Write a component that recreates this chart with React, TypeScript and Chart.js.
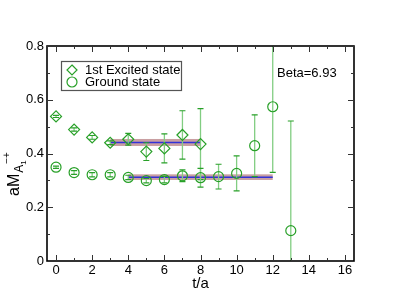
import React, { useEffect, useRef } from "react";
import { Chart, registerables } from "chart.js";

Chart.register(...registerables);

const tExcited = [0, 1, 2, 3, 4, 5, 6, 7, 8];
const excited = [0.538, 0.489, 0.46, 0.44, 0.453, 0.407, 0.419, 0.469, 0.435];
const excitedErr = [0.004, 0.006, 0.007, 0.007, 0.022, 0.033, 0.054, 0.09, 0.132];

const tGround = [0, 1, 2, 3, 4, 5, 6, 7, 8, 9, 10, 11, 12, 13];
const ground = [0.349, 0.329, 0.321, 0.321, 0.311, 0.299, 0.303, 0.317, 0.31, 0.314, 0.326, 0.429, 0.574, 0.113];
const groundErr = [0.004, 0.007, 0.008, 0.008, 0.008, 0.008, 0.012, 0.022, 0.035, 0.046, 0.065, 0.115, 0.244, 0.408];

// fit bands: [tFrom, tTo, value, halfWidth]
const fitExcited = [3, 8, 0.441, 0.013];
const fitGround = [4, 12, 0.312, 0.0105];

const xTicks = [0, 2, 4, 6, 8, 10, 12, 14, 16];
const xMinorTicks = [1, 3, 5, 7, 9, 11, 13, 15];
const yTicks = [0, 0.2, 0.4, 0.6, 0.8];
const yTickLabels = ["0", "0.2", "0.4", "0.6", "0.8"];
const yMinorTicks = [0.1, 0.3, 0.5, 0.7];

const legendLabels = ["1st Excited state", "Ground state"];
const annotation = "Beta=6.93";
const xTitle = "t/a";

const GREEN = "rgb(40,160,40)";
const LIGHT_GREEN = "rgb(130,205,130)";
const FONT = "Liberation Sans, Arial, sans-serif";

const errs = [excitedErr, groundErr];

const customPlugin = {
  id: "custom",
  beforeDatasetsDraw(chart: any) {
    const { ctx, chartArea: a, scales } = chart;
    const xs = scales.x;
    const ys = scales.y;
    ctx.save();
    ctx.beginPath();
    ctx.rect(a.left, a.top, a.right - a.left, a.bottom - a.top);
    ctx.clip();
    // bands
    for (const f of [fitExcited, fitGround]) {
      const x1 = xs.getPixelForValue(f[0]);
      const x2 = xs.getPixelForValue(f[1]);
      const yT = ys.getPixelForValue(f[2] + f[3]);
      const yB = ys.getPixelForValue(f[2] - f[3]);
      ctx.fillStyle = "rgba(165,95,100,0.6)";
      ctx.fillRect(x1, yT, x2 - x1, yB - yT);
      const yc = ys.getPixelForValue(f[2]);
      ctx.strokeStyle = "rgb(50,50,215)";
      ctx.lineWidth = 1.5;
      ctx.beginPath();
      ctx.moveTo(x1, yc);
      ctx.lineTo(x2, yc);
      ctx.stroke();
    }
    // error bars
    chart.data.datasets.forEach((ds: any, i: number) => {
      const e = errs[i];
      ds.data.forEach((p: any, j: number) => {
        const x = xs.getPixelForValue(p.x);
        const yT = ys.getPixelForValue(p.y + e[j]);
        const yB = ys.getPixelForValue(p.y - e[j]);
        ctx.strokeStyle = LIGHT_GREEN;
        ctx.lineWidth = 1.3;
        ctx.beginPath();
        ctx.moveTo(x, yT);
        ctx.lineTo(x, yB);
        ctx.stroke();
        ctx.strokeStyle = GREEN;
        ctx.lineWidth = 1.2;
        ctx.beginPath();
        ctx.moveTo(x - 3, yT);
        ctx.lineTo(x + 3, yT);
        ctx.moveTo(x - 3, yB);
        ctx.lineTo(x + 3, yB);
        ctx.stroke();
      });
    });
    ctx.restore();
  },
  afterDraw(chart: any) {
    const { ctx, chartArea: a, scales } = chart;
    const xs = scales.x;
    const ys = scales.y;
    ctx.save();
    // frame
    ctx.strokeStyle = "#000";
    ctx.lineWidth = 1.6;
    ctx.strokeRect(a.left, a.top, a.right - a.left, a.bottom - a.top);
    ctx.lineWidth = 1;
    ctx.strokeStyle = "#333";
    ctx.beginPath();
    for (const t of xTicks) {
      const x = Math.round(xs.getPixelForValue(t)) + 0.5;
      ctx.moveTo(x, a.bottom); ctx.lineTo(x, a.bottom - 6);
      ctx.moveTo(x, a.top); ctx.lineTo(x, a.top + 6);
    }
    for (const t of xMinorTicks) {
      const x = Math.round(xs.getPixelForValue(t)) + 0.5;
      ctx.moveTo(x, a.bottom); ctx.lineTo(x, a.bottom - 3);
      ctx.moveTo(x, a.top); ctx.lineTo(x, a.top + 3);
    }
    for (const t of yTicks) {
      const y = Math.round(ys.getPixelForValue(t)) + 0.5;
      ctx.moveTo(a.left, y); ctx.lineTo(a.left + 6, y);
      ctx.moveTo(a.right, y); ctx.lineTo(a.right - 6, y);
    }
    for (const t of yMinorTicks) {
      const y = Math.round(ys.getPixelForValue(t)) + 0.5;
      ctx.moveTo(a.left, y); ctx.lineTo(a.left + 3, y);
      ctx.moveTo(a.right, y); ctx.lineTo(a.right - 3, y);
    }
    ctx.stroke();
    // tick labels
    ctx.fillStyle = "#000";
    ctx.font = `13px ${FONT}`;
    ctx.textAlign = "center";
    ctx.textBaseline = "top";
    for (const t of xTicks) {
      ctx.fillText(String(t), xs.getPixelForValue(t), a.bottom + 3);
    }
    ctx.textAlign = "right";
    ctx.textBaseline = "middle";
    yTicks.forEach((t, i) => {
      ctx.fillText(yTickLabels[i], a.left - 3, ys.getPixelForValue(t));
    });
    // x title
    ctx.font = `15px ${FONT}`;
    ctx.textAlign = "center";
    ctx.textBaseline = "middle";
    ctx.fillText(xTitle, (a.left + a.right) / 2, 284);
    // annotation
    ctx.font = `13px ${FONT}`;
    ctx.textAlign = "left";
    ctx.textBaseline = "alphabetic";
    ctx.fillText(annotation, 277, 77);
    // y title aM_{A1}^{-+}
    ctx.save();
    ctx.translate(19, 196);
    ctx.rotate(-Math.PI / 2);
    ctx.textAlign = "left";
    ctx.textBaseline = "alphabetic";
    ctx.font = `16px ${FONT}`;
    ctx.fillText("aM", 0, 0);
    const w = ctx.measureText("aM").width;
    ctx.font = `12px ${FONT}`;
    ctx.fillText("A", w + 1, 4);
    const wa = ctx.measureText("A").width;
    ctx.font = `8px ${FONT}`;
    ctx.fillText("1", w + 1 + wa, 7);
    ctx.font = `10px ${FONT}`;
    ctx.fillText("\u2212+", w + wa + 2, -9);
    ctx.restore();
    // legend
    ctx.strokeStyle = "#555";
    ctx.lineWidth = 1.2;
    ctx.strokeRect(61.5, 61.5, 120, 29);
    ctx.strokeStyle = GREEN;
    ctx.lineWidth = 1.2;
    ctx.beginPath();
    ctx.moveTo(72, 65); ctx.lineTo(77, 70); ctx.lineTo(72, 75); ctx.lineTo(67, 70); ctx.closePath();
    ctx.stroke();
    ctx.beginPath();
    ctx.arc(72, 82, 5, 0, Math.PI * 2);
    ctx.stroke();
    ctx.fillStyle = "#000";
    ctx.font = `13px ${FONT}`;
    ctx.textAlign = "left";
    ctx.textBaseline = "middle";
    ctx.fillText(legendLabels[0], 85, 70.5);
    ctx.fillText(legendLabels[1], 85, 82.5);
    ctx.restore();
  },
};

export default function App() {
  const ref = useRef<HTMLCanvasElement>(null);
  useEffect(() => {
    if (!ref.current) return;
    const chart = new Chart(ref.current, {
      type: "scatter",
      data: {
        datasets: [
          {
            label: legendLabels[0],
            data: tExcited.map((t, i) => ({ x: t, y: excited[i] })),
            pointStyle: "rectRot",
            pointRadius: 5.5,
            borderColor: GREEN,
            backgroundColor: "rgba(0,0,0,0)",
            borderWidth: 1.2,
          },
          {
            label: legendLabels[1],
            data: tGround.map((t, i) => ({ x: t, y: ground[i] })),
            pointStyle: "circle",
            pointRadius: 5,
            borderColor: GREEN,
            backgroundColor: "rgba(0,0,0,0)",
            borderWidth: 1.2,
          },
        ],
      },
      options: {
        responsive: false,
        animation: false,
        layout: { padding: { left: 47, top: 46, right: 45, bottom: 47 } },
        plugins: { legend: { display: false }, tooltip: { enabled: false } },
        scales: {
          x: { type: "linear", min: -0.5, max: 16.5, display: false },
          y: { type: "linear", min: 0, max: 0.8, display: false },
        },
      },
      plugins: [customPlugin],
    });
    return () => chart.destroy();
  }, []);
  return (
    <div style={{ position: "fixed", left: 0, top: 0, width: 399, height: 308, background: "#fff" }}>
      <canvas ref={ref} width={399} height={308} />
    </div>
  );
}
